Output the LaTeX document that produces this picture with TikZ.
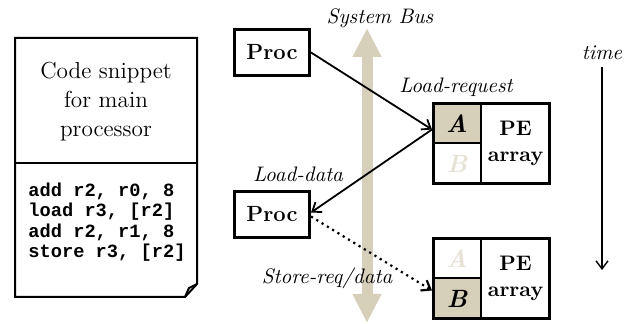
\documentclass[tikz,border=0pt]{standalone}
\usepackage{fontspec}
\newfontfamily\codefont{Liberation Mono}
\usetikzlibrary{arrows.meta}
\definecolor{busTan}{RGB}{214,208,187}
\definecolor{fadeTan}{RGB}{230,226,213}
\newcommand{\lbl}[1]{\fontsize{10.5}{12}\selectfont\itshape #1}
\newcommand{\cellA}{\fontsize{12.5}{14}\selectfont\bfseries\itshape A}
\newcommand{\cellB}{\fontsize{12.5}{14}\selectfont\bfseries\itshape B}

\begin{document}
\begin{tikzpicture}[x=0.5pt,y=-0.5pt,
  procbox/.style={draw,line width=1.5pt,minimum width=37.5pt,minimum height=23pt,inner sep=0pt,font=\fontsize{11}{13}\selectfont\bfseries},
  cellbox/.style={draw,line width=1pt,minimum width=24pt,minimum height=20pt,inner sep=0pt},
  pebox/.style={draw,line width=1pt,minimum width=34.5pt,minimum height=40pt,inner sep=0pt,align=center,font=\fontsize{10.5}{13}\selectfont\bfseries},
  tip/.style={-{Straight Barb[length=4pt,width=6pt]}}]
\useasboundingbox (0,0) rectangle (635,324);
% system bus
\draw[busTan,line width=5.5pt,{Triangle[width=13.5pt,length=14.5pt]}-{Triangle[width=13.5pt,length=14.5pt]}] (367,28) -- (367,323);
\node (bus) at (380,18) {\lbl{System Bus}};
% code snippet
\draw[line width=1pt] (15,38) -- (197,38) -- (197,284) -- (185,297) -- (15,297) -- cycle;
\draw[line width=1pt] (197,284) -- (189,288) -- (185,297);
\draw[line width=1pt] (15,163) -- (197,163);
\node[align=center,font=\fontsize{11.6}{14.5}\selectfont] (title) at (106,102) {Code snippet\\for main\\processor};
\node[anchor=west,align=left,inner sep=0pt,font=\codefont\bfseries\fontsize{9.35}{10.2}\selectfont] (code) at (28,222)
  {add r2, r0, 8\\load r3, [r2]\\add r2, r1, 8\\store r3, [r2]};
% processors
\node[procbox] (procA) at (272,52.5) {Proc};
\node[procbox] (procB) at (272,214.5) {Proc};
% PE array, first step
\begin{scope}
\node[cellbox,fill=busTan] (aTop) at (457,123.5) {\cellA};
\node[cellbox] (bTop) at (457,163.5) {\color{fadeTan}\cellB};
\node[pebox] (peTop) at (515.5,143.5) {PE\\array};
\draw[line width=1.5pt] (433,103.5) rectangle (549,183.5);
\end{scope}
% PE array, second step
\begin{scope}[shift={(0,135)}]
\node[cellbox] (aBot) at (457,123.5) {\color{fadeTan}\cellA};
\node[cellbox,fill=busTan] (bBot) at (457,163.5) {\cellB};
\node[pebox] (peBot) at (515.5,143.5) {PE\\array};
\draw[line width=1.5pt] (433,103.5) rectangle (549,183.5);
\end{scope}
% transfers
\draw[line width=0.9pt,tip] (procA.east) -- ([yshift=-3pt]aTop.west);
\draw[line width=0.9pt,tip] ([yshift=-3pt]aTop.west) -- ([yshift=1pt]procB.east);
\draw[line width=1.1pt,dotted,tip] ([yshift=-1pt]procB.east) -- ([yshift=4pt]bBot.west);
\node (lreq) at (456,87) {\lbl{Load-request}};
\node (ldat) at (298,174) {\lbl{Load-data}};
\node (sdat) at (327,278) {\lbl{Store-req/data}};
% time
\node (time) at (602,53) {\lbl{time}};
\coordinate (timeEnd) at (602,270);
\draw[line width=0.7pt,tip] (time.south) -- (timeEnd);
\end{tikzpicture}
\end{document}
